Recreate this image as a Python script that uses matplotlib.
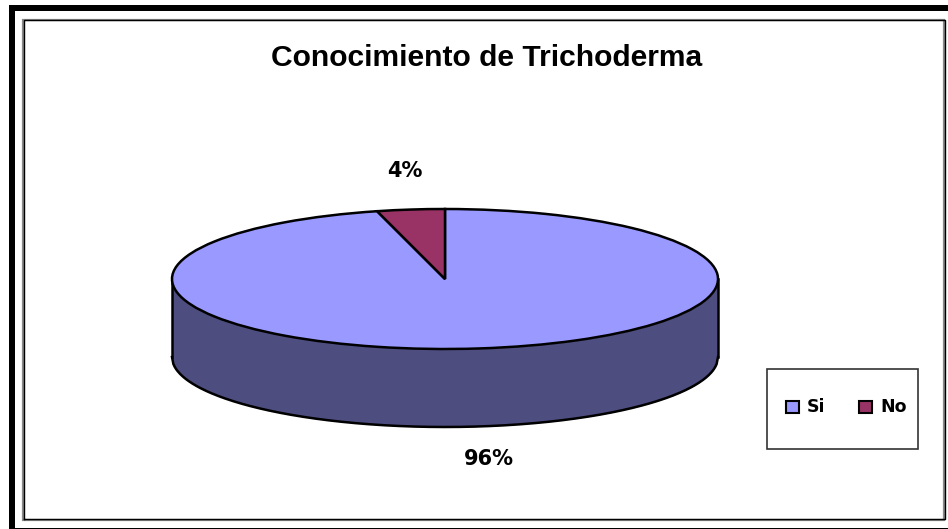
import numpy as np
import matplotlib
matplotlib.use('Agg')
import matplotlib.pyplot as plt
from matplotlib.patches import Rectangle

titulo = 'Conocimiento de Trichoderma'
categorias = ['Si', 'No']
valores = [96, 4]
etiquetas = ['96%', '4%']
colores = ['#9999FF', '#993366']
color_lado = '#4D4D80'

W, H = 948, 529
fig = plt.figure(figsize=(W / 100, H / 100), dpi=100, facecolor='white')

# capa de fondo en pixeles para los marcos y textos
bg = fig.add_axes([0, 0, 1, 1])
bg.set_xlim(0, W)
bg.set_ylim(H, 0)
bg.axis('off')

# marco negro exterior
bg.add_patch(Rectangle((9, 5), W - 9, 6, fc='black', ec='none'))
bg.add_patch(Rectangle((9, 5), 6, H - 5, fc='black', ec='none'))
bg.add_patch(Rectangle((9, 527.5), W - 9, 1.5, fc='black', ec='none'))

# marco del grafico
bg.add_patch(Rectangle((23.5, 19.5), 921, 500, fc='white', ec='#8a8a8a', lw=1.6))
bg.plot([24, 24, 945, 945, 24], [519, 20, 20, 519, 519], color='black', lw=1.0)

# leyenda
bg.add_patch(Rectangle((767.5, 368.5), 151, 80, fc='white', ec='#333333', lw=1.2))
for x, c, nombre, xt in zip([786, 859.5], colores, categorias, [807, 880]):
    bg.add_patch(Rectangle((x, 400.5), 13, 12.5, fc=c, ec='black', lw=1.5))
    bg.text(xt, 407, nombre, fontsize=12.5, fontweight='bold', family='DejaVu Sans',
            ha='left', va='center', color='black')

bg.text(487, 58, titulo, fontsize=21.6, fontweight='bold', family='Liberation Sans',
        ha='center', va='center', color='black')
bg.text(405, 171, etiquetas[1], fontsize=15, fontweight='bold', family='DejaVu Sans',
        ha='center', va='center', color='black')
bg.text(489, 459, etiquetas[0], fontsize=15, fontweight='bold', family='DejaVu Sans',
        ha='center', va='center', color='black')

# torta: elipse 172-718 en x, 209-349 en y, con 78 px de lado
x0, x1, y0, y1 = 172, 718, 209, 427
ax = fig.add_axes([x0 / W, 1 - y1 / H, (x1 - x0) / W, (y1 - y0) / H])
ax.patch.set_alpha(0)
alto = 78 / 70

inicio = 90 + valores[1] / sum(valores) * 360
ax.pie(valores, colors=colores, startangle=inicio, radius=1,
       wedgeprops={'edgecolor': 'black', 'linewidth': 1.8, 'clip_on': False})
ax.set_aspect('auto')
ax.set_xlim(-1, 1)
ax.set_ylim(-1 - alto, 1)
ax.axis('off')

xs = np.linspace(-1, 1, 400)
ys = -np.sqrt(1 - xs ** 2)
ax.fill_between(xs, ys, ys - alto, color=color_lado, lw=0, zorder=0.5, clip_on=False)
ax.plot(xs, ys - alto, color='black', lw=1.8, clip_on=False, zorder=0.6)
ax.plot([-1, -1], [0, -alto], color='black', lw=1.8, clip_on=False, zorder=0.6)
ax.plot([1, 1], [0, -alto], color='black', lw=1.8, clip_on=False, zorder=0.6)

fig.savefig('out.png', dpi=100)
